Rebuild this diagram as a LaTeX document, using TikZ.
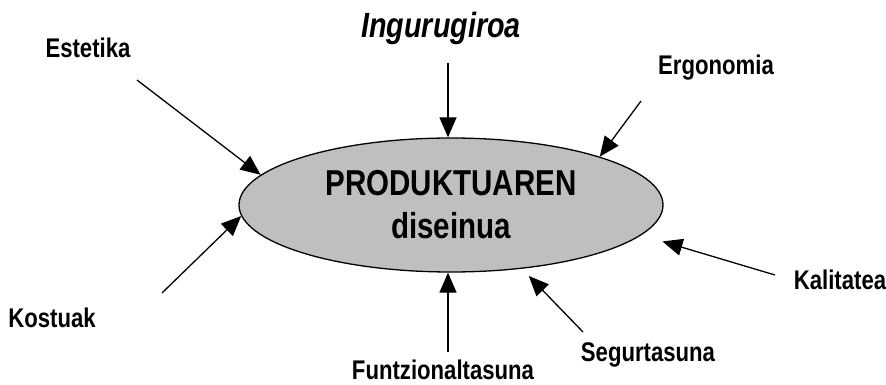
\documentclass[tikz,border=0pt]{standalone}
\usepackage{fontspec}
\setmainfont{Liberation Sans}[FakeStretch=0.82]
\usetikzlibrary{arrows.meta, shapes.geometric}

\begin{document}
\begin{tikzpicture}[
            x = 1pt, y = -1pt, % pixel grid
            > = {Triangle[length=20pt, width=17pt]}, % arrow head style
            line width = 1.3pt, % line style
            font = \bfseries
        ]

        \tikzstyle{factor}=[
            inner sep = 0pt,
            anchor = base,
            font = \bfseries\fontsize{27}{30}\selectfont
        ]
        \tikzstyle{centre}=[
            draw = black,
            fill = black!25,
            ellipse,
            minimum width = 424pt,
            minimum height = 134pt,
            inner sep = 0pt,
            align = center,
            font = \bfseries\fontsize{36}{43}\selectfont
        ]

        \useasboundingbox (0,0) rectangle (886,385);

        \node[centre] (prod) at (451,205) {PRODUKTUAREN\\diseinua};

        \node[factor, font=\bfseries\itshape\fontsize{35}{38}\selectfont] (ing) at (441,38) {Ingurugiroa};
        \node[factor] (est) at (88,58) {Estetika};
        \node[factor] (erg) at (716,75) {Ergonomia};
        \node[factor] (kal) at (840,289) {Kalitatea};
        \node[factor] (kos) at (52,327) {Kostuak};
        \node[factor] (seg) at (648,361) {Segurtasuna};
        \node[factor] (fun) at (443,379) {Funtzionaltasuna};

        % free ends of the arrows
        \coordinate (ing-s) at (448,63);
        \coordinate (est-s) at (137,80);
        \coordinate (erg-s) at (641,101);
        \coordinate (kal-s) at (775,275);
        \coordinate (kos-s) at (162,293);
        \coordinate (seg-s) at (583,332);
        \coordinate (fun-s) at (448,352);

        \draw[->] (ing-s) -- (prod.north -| ing-s);
        \draw[->] (est-s) -- (prod.171.7);
        \draw[->] (erg-s) -- (prod.18.6);
        \draw[->, shorten > = 22pt] (kal-s) -- (prod.-9);
        \draw[->] (kos-s) -- (prod.183.5);
        \draw[->, shorten > = 10pt] (seg-s) -- (prod.-42);
        \draw[->] (fun-s) -- (prod.south -| fun-s);

    \end{tikzpicture}
\end{document}
